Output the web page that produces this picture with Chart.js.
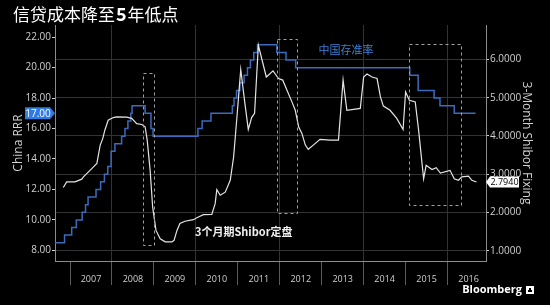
<!DOCTYPE html>
<html>
<head>
<meta charset="utf-8">
<script src="https://cdn.jsdelivr.net/npm/chart.js@4.4.0/dist/chart.umd.min.js"></script>
<style>
    html, body { margin: 0; padding: 0; background: #000; }
    #contenedor { width: 550px; height: 305px; position: relative; }
</style>
</head>
<body>
<div id="contenedor"><canvas id="grafico"></canvas></div>
<script>
// ==========================================
// 1. DATOS
// ==========================================

// Coeficiente de reservas (China RRR), fechas en años decimales
const rrrFechas = [2006.62, 2006.87, 2007.04, 2007.15, 2007.29, 2007.37, 2007.43, 2007.62, 2007.73, 2007.82,
    2007.90, 2007.98, 2008.07, 2008.23, 2008.31, 2008.38, 2008.45, 2008.48, 2008.79, 2008.93,
    2008.98, 2010.05, 2010.15, 2010.36, 2010.87, 2010.91, 2010.97, 2011.05, 2011.15, 2011.23,
    2011.30, 2011.38, 2011.47, 2011.93, 2012.15, 2012.38, 2015.10, 2015.30, 2015.68, 2015.82,
    2016.16, 2016.67];
const rrrValores = [8.5, 9.0, 9.5, 10.0, 10.5, 11.0, 11.5, 12.0, 12.5, 13.0,
    13.5, 14.5, 15.0, 15.5, 16.0, 16.5, 17.0, 17.5, 17.0, 16.0,
    15.5, 16.0, 16.5, 17.0, 17.5, 18.0, 18.5, 19.0, 19.5, 20.0,
    20.5, 21.0, 21.5, 21.0, 20.5, 20.0, 19.5, 18.5, 18.0, 17.5,
    17.0, 17.0];

// Shibor a 3 meses
const shiborFechas = [2006.84, 2006.92, 2007.12, 2007.28, 2007.32, 2007.44, 2007.56, 2007.64, 2007.72, 2007.78,
    2007.83, 2007.91, 2008.03, 2008.11, 2008.35, 2008.47, 2008.59, 2008.71, 2008.79, 2008.84,
    2008.91, 2008.97, 2009.05, 2009.15, 2009.27, 2009.43, 2009.48, 2009.55, 2009.62, 2009.74,
    2009.94, 2010.06, 2010.18, 2010.38, 2010.46, 2010.50, 2010.58, 2010.70, 2010.82, 2010.90,
    2010.98, 2011.07, 2011.16, 2011.25, 2011.33, 2011.40, 2011.49, 2011.68, 2011.84, 2011.97,
    2012.07, 2012.17, 2012.29, 2012.37, 2012.45, 2012.53, 2012.61, 2012.68, 2012.80, 2012.96,
    2013.20, 2013.40, 2013.51, 2013.60, 2013.92, 2014.00, 2014.08, 2014.20, 2014.32, 2014.40,
    2014.47, 2014.63, 2014.79, 2014.94, 2015.00, 2015.09, 2015.23, 2015.31, 2015.43, 2015.49,
    2015.63, 2015.73, 2015.83, 2016.06, 2016.16, 2016.26, 2016.34, 2016.50, 2016.58, 2016.69];
const shiborValores = [2.65, 2.80, 2.80, 2.87, 2.93, 3.06, 3.19, 3.28, 3.76, 3.93,
    4.15, 4.41, 4.48, 4.50, 4.49, 4.46, 4.32, 4.30, 4.24, 3.89,
    3.10, 2.14, 1.53, 1.31, 1.23, 1.23, 1.27, 1.53, 1.71, 1.77,
    1.81, 1.88, 1.94, 1.95, 2.23, 2.60, 2.45, 2.53, 2.84, 3.45,
    4.50, 5.74, 4.93, 4.17, 4.48, 4.59, 6.37, 5.54, 5.70, 5.50,
    5.46, 5.20, 4.89, 4.67, 4.24, 4.06, 3.76, 3.65, 3.76, 3.91,
    3.89, 3.89, 5.46, 4.67, 4.72, 5.54, 5.62, 5.54, 5.50, 5.02,
    4.78, 4.67, 4.46, 4.17, 5.15, 4.93, 4.89, 4.15, 2.88, 3.23,
    3.12, 3.17, 3.03, 3.10, 2.88, 2.84, 2.93, 2.95, 2.84, 2.794];

// Etiquetas de ejes
const anios = [2007, 2008, 2009, 2010, 2011, 2012, 2013, 2014, 2015, 2016];
const ticksRRR = [8, 10, 12, 14, 16, 18, 20, 22];
const ticksShibor = [1, 2, 3, 4, 5, 6];

// Cajas discontinuas (años / eje RRR)
const cajaDesde = [2008.75, 2011.93, 2015.09];
const cajaHasta = [2009.00, 2012.42, 2016.33];
const cajaArriba = [19.66, 21.91, 21.54];
const cajaAbajo = [8.33, 10.48, 10.98];

// Textos del gráfico
const titulo = ['信贷成本降至', '5', '年低点'];
const notaRRR = { texto: '中国存准率', x: 2013.58, y: 21.15 };
const notaShibor = { texto: '3个月期Shibor定盘', x: 2011.14, y: 9.21 };

// ==========================================
// 2. PLUGIN DE EXTRAS (título, cajas, etiquetas)
// ==========================================

const FUENTE = "'Open Sans', sans-serif";
const FUENTE_CJK = "'Noto Sans CJK SC', sans-serif";

const pluginExtras = {
    id: 'extras',
    afterDraw(chart) {
        const ctx = chart.ctx;
        const sx = chart.scales.x;
        const sy = chart.scales.y;
        const sy2 = chart.scales.y2;
        const area = chart.chartArea;
        ctx.save();

        // cajas discontinuas
        ctx.setLineDash([3, 3]);
        ctx.strokeStyle = '#a0a0a0';
        ctx.lineWidth = 1;
        cajaDesde.forEach((d, i) => {
            const x0 = Math.round(sx.getPixelForValue(d)) + 0.5;
            const x1 = Math.round(sx.getPixelForValue(cajaHasta[i])) + 0.5;
            const y0 = Math.round(sy.getPixelForValue(cajaArriba[i])) + 0.5;
            const y1 = Math.round(sy.getPixelForValue(cajaAbajo[i])) + 0.5;
            ctx.strokeRect(x0, y0, x1 - x0, y1 - y0);
        });
        ctx.setLineDash([]);

        // título con el "5" en negrita
        ctx.textBaseline = 'middle';
        ctx.textAlign = 'left';
        ctx.fillStyle = '#ffffff';
        let tx = 13;
        titulo.forEach((parte, i) => {
            ctx.font = (i === 1 ? 'bold 18px ' : '17px ') + FUENTE_CJK;
            ctx.fillText(parte, tx, 14.5);
            tx += ctx.measureText(parte).width + 1;
        });

        // notas de series
        ctx.textAlign = 'center';
        ctx.font = '11px ' + FUENTE_CJK;
        ctx.fillStyle = '#3f7fd4';
        ctx.fillText(notaRRR.texto, sx.getPixelForValue(notaRRR.x), sy.getPixelForValue(notaRRR.y));
        ctx.font = 'bold 11px ' + FUENTE_CJK;
        ctx.fillStyle = '#f0f0f0';
        ctx.fillText(notaShibor.texto, sx.getPixelForValue(notaShibor.x), sy.getPixelForValue(notaShibor.y));

        // etiqueta último valor RRR (izquierda)
        const ultRRR = rrrValores[rrrValores.length - 1];
        const yr = sy.getPixelForValue(ultRRR);
        ctx.fillStyle = '#2f7be3';
        ctx.beginPath();
        ctx.moveTo(25, yr - 6);
        ctx.lineTo(50, yr - 6);
        ctx.lineTo(area.left, yr);
        ctx.lineTo(50, yr + 6);
        ctx.lineTo(25, yr + 6);
        ctx.closePath();
        ctx.fill();
        ctx.fillStyle = '#ffffff';
        ctx.font = '10px ' + FUENTE;
        ctx.fillText(ultRRR.toFixed(2), 38, yr + 0.5);

        // etiqueta último valor Shibor (derecha)
        const ultShibor = shiborValores[shiborValores.length - 1];
        const ys = sy2.getPixelForValue(ultShibor);
        const xr = area.right;
        ctx.fillStyle = '#ffffff';
        ctx.beginPath();
        ctx.moveTo(xr, ys);
        ctx.lineTo(xr + 4, ys - 5.5);
        ctx.lineTo(xr + 33, ys - 5.5);
        ctx.lineTo(xr + 33, ys + 5.5);
        ctx.lineTo(xr + 4, ys + 5.5);
        ctx.closePath();
        ctx.fill();
        ctx.fillStyle = '#000000';
        ctx.font = '9px ' + FUENTE;
        ctx.fillText(ultShibor.toFixed(4), xr + 18.5, ys + 0.5);

        // marca Bloomberg
        ctx.textAlign = 'right';
        ctx.font = 'bold 11px ' + FUENTE;
        ctx.fillStyle = '#ffffff';
        ctx.fillText('Bloomberg', 522, 290);
        ctx.fillRect(526, 286, 8, 8);
        ctx.fillStyle = '#000000';
        ctx.fillRect(529, 288, 2, 2);
        ctx.fillRect(528, 290, 4, 2);

        ctx.restore();
    }
};

// ==========================================
// 3. GRÁFICO
// ==========================================

Chart.defaults.font.family = FUENTE;

new Chart(document.getElementById('grafico'), {
    type: 'line',
    data: {
        datasets: [{
            label: '3-Month Shibor Fixing',
            data: shiborFechas.map((f, i) => ({ x: f, y: shiborValores[i] })),
            yAxisID: 'y2',
            borderColor: '#e4e4e4',
            borderWidth: 1.2,
            pointRadius: 0,
            tension: 0,
            fill: false
        }, {
            label: 'China RRR',
            data: rrrFechas.map((f, i) => ({ x: f, y: rrrValores[i] })),
            yAxisID: 'y',
            borderColor: '#3a6bbd',
            borderWidth: 1.5,
            pointRadius: 0,
            stepped: true,
            fill: false
        }]
    },
    options: {
        responsive: true,
        maintainAspectRatio: false,
        animation: false,
        layout: { padding: { top: 25, left: 0, right: 0, bottom: 0 } },
        plugins: {
            legend: { display: false },
            tooltip: { enabled: false }
        },
        scales: {
            x: {
                type: 'linear',
                min: 2006.642,
                max: 2016.917,
                afterBuildTicks: s => { s.ticks = anios.map(v => ({ value: v })); },
                afterFit: s => { s.height = 44; },
                border: { color: '#8c8c8c' },
                grid: {
                    color: c => (c.tick && c.tick.value % 2 === 0) ? '#333333' : 'rgba(0,0,0,0)',
                    tickColor: '#5a5a5a',
                    tickLength: 24
                },
                ticks: {
                    color: '#d0d0d0',
                    font: { size: 9 },
                    padding: -11,
                    labelOffset: 21,
                    maxRotation: 0,
                    autoSkip: false,
                    callback: v => String(v)
                }
            },
            y: {
                position: 'left',
                min: 7.3,
                max: 22.8,
                afterBuildTicks: s => { s.ticks = ticksRRR.map(v => ({ value: v })); },
                afterFit: s => { s.width = 55; },
                border: { color: '#8c8c8c' },
                grid: { drawOnChartArea: false, tickLength: 3, tickColor: '#d0d0d0' },
                ticks: { color: '#d0d0d0', font: { size: 10 }, padding: 1, callback: v => v.toFixed(2) },
                title: {
                    display: true,
                    text: 'China RRR',
                    color: '#d0d0d0',
                    font: { size: 12 },
                    padding: { top: 11, bottom: 0 }
                }
            },
            y2: {
                position: 'right',
                min: 0.73,
                max: 6.9,
                afterBuildTicks: s => { s.ticks = ticksShibor.map(v => ({ value: v })); },
                afterFit: s => { s.width = 64; },
                border: { color: '#8c8c8c' },
                grid: { color: '#333333', tickLength: 3, tickColor: '#d0d0d0' },
                ticks: { color: '#d0d0d0', font: { size: 10 }, padding: 1, callback: v => v.toFixed(4) },
                title: {
                    display: true,
                    text: '3-Month Shibor Fixing',
                    color: '#d0d0d0',
                    font: { size: 12 },
                    padding: { top: 16, bottom: 0 }
                }
            }
        }
    },
    plugins: [pluginExtras]
});
</script>
</body>
</html>
